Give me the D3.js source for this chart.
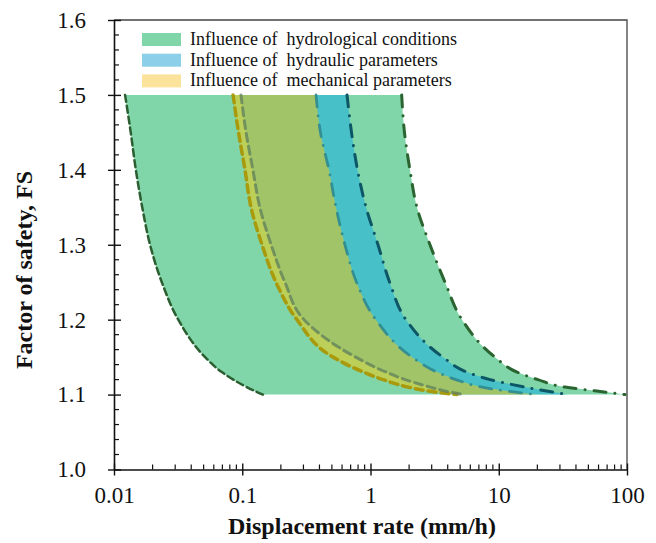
<!DOCTYPE html>
<html>
<head>
<meta charset="utf-8">
<script src="https://cdn.jsdelivr.net/npm/d3@7"></script>
<style>
  body { margin: 0; background: #fff; }
  text { font-family: "Liberation Serif", "Times New Roman", serif; fill: #111; }
</style>
</head>
<body>
<div id="chart"></div>
<script>
// factor of safety levels where each boundary curve was read
const fsLevels = [1.5, 1.45, 1.4, 1.35, 1.3, 1.25, 1.2, 1.15, 1.13, 1.12, 1.11, 1.105, 1.1];

// displacement rate (mm/h) of each boundary at those levels
const hydroLow = [0.0122, 0.0135, 0.0148, 0.0166, 0.0191, 0.0236, 0.0317, 0.0513, 0.0692, 0.0851, 0.108, 0.124, 0.145];
const hydroHigh = [1.75, 1.84, 2.03, 2.30, 2.91, 3.81, 5.17, 9.35, 13.9, 20.2, 32.9, 56.3, 96.5];
const hydraulicLow = [0.0977, 0.107, 0.121, 0.137, 0.168, 0.215, 0.303, 0.766, 1.32, 1.86, 2.91, 3.75, 5.26];
const hydraulicHigh = [0.656, 0.711, 0.792, 0.923, 1.144, 1.41, 1.89, 3.67, 5.65, 8.55, 16.0, 23.0, 34.7];
const mechLow = [0.0848, 0.0935, 0.105, 0.117, 0.1426, 0.183, 0.267, 0.51, 0.88, 1.25, 1.96, 2.72, 4.72];
const mechHigh = [0.376, 0.407, 0.474, 0.538, 0.632, 0.778, 1.10, 2.11, 3.30, 4.64, 7.40, 11.2, 20.2];

const legendLabels = [
  'Influence of  hydrological conditions',
  'Influence of  hydraulic parameters',
  'Influence of  mechanical parameters',
];
const xTicks = [0.01, 0.1, 1, 10, 100];
const xTickLabels = ['0.01', '0.1', '1', '10', '100'];
const yTicks = [1.0, 1.1, 1.2, 1.3, 1.4, 1.5, 1.6];

const W = 656, H = 543;
const margin = { top: 20, right: 29, bottom: 73.5, left: 114 };
const serif = '"Liberation Serif", "Times New Roman", serif';

const svg = d3.select('#chart').append('svg').attr('width', W).attr('height', H);

const x = d3.scaleLog().domain([0.01, 100]).range([margin.left, W - margin.right]);
const y = d3.scaleLinear().domain([1.0, 1.6]).range([H - margin.bottom, margin.top]);

function band(lo, hi) {
  return fsLevels.map((fs, i) => ({ fs, lo: lo[i], hi: hi[i] }));
}

const area = d3.area()
  .y(d => y(d.fs))
  .x0(d => x(d.lo))
  .x1(d => x(d.hi))
  .curve(d3.curveMonotoneY);

const edge = key => d3.line()
  .y(d => y(d.fs))
  .x(d => x(d[key]))
  .curve(d3.curveMonotoneY);

const hydro = band(hydroLow, hydroHigh);
const hydraulic = band(hydraulicLow, hydraulicHigh);
const mech = band(mechLow, mechHigh);

const plot = svg.append('g');

// bands: green underneath, blue and yellow see-through on top
plot.append('path').datum(hydro).attr('d', area).attr('fill', '#80d6a8');
plot.append('path').datum(hydraulic).attr('d', area).attr('fill', 'rgb(30,175,224)').attr('fill-opacity', 0.57);
plot.append('path').datum(mech).attr('d', area).attr('fill', 'rgb(248,200,8)').attr('fill-opacity', 0.5);

// boundary lines
const dashDot = '12,9,0.1,9';
const edges = [
  { data: hydro, key: 'lo', color: '#2b5e30', width: 2.5, dash: '7,4', opacity: 1 },
  { data: mech, key: 'lo', color: '#a99400', width: 3.5, dash: '8,5', opacity: 0.9 },
  { data: hydraulic, key: 'lo', color: '#5d7f5c', width: 3, dash: '8,5', opacity: 0.75 },
  { data: mech, key: 'hi', color: '#2e8a90', width: 2.8, dash: dashDot, opacity: 0.9 },
  { data: hydraulic, key: 'hi', color: '#0d5666', width: 3, dash: dashDot, opacity: 1 },
  { data: hydro, key: 'hi', color: '#2a6430', width: 3, dash: dashDot, opacity: 1 },
];
edges.forEach(e => {
  plot.append('path').datum(e.data).attr('d', edge(e.key))
    .attr('fill', 'none')
    .attr('stroke', e.color)
    .attr('stroke-width', e.width)
    .attr('stroke-dasharray', e.dash)
    .attr('stroke-linecap', 'round')
    .attr('stroke-opacity', e.opacity);
});

// frame (top and right)
svg.append('path')
  .attr('d', `M${margin.left},${y(1.6)}H${x(100)}V${y(1.0)}`)
  .attr('fill', 'none').attr('stroke', '#444').attr('stroke-width', 1.3);

// y axis
const yAxis = svg.append('g')
  .attr('transform', `translate(${margin.left},0)`)
  .call(d3.axisLeft(y).tickValues(yTicks).tickFormat(d3.format('.1f')).tickSizeOuter(0).tickSizeInner(6).tickPadding(22))
  .attr('font-family', serif);
yAxis.select('.domain').attr('stroke', '#111').attr('stroke-width', 1.6);
yAxis.selectAll('.tick line').attr('x1', 7).attr('x2', -6).attr('stroke', '#111').attr('stroke-width', 1.4);
yAxis.selectAll('.tick text').attr('font-size', 23).attr('x', -28).attr('font-family', serif);

const yMinor = d3.range(1.0, 1.6001, 0.02).filter(v => Math.abs(v * 10 - Math.round(v * 10)) > 1e-6);
svg.append('g').selectAll('line').data(yMinor).enter().append('line')
  .attr('x1', margin.left).attr('x2', margin.left + 5)
  .attr('y1', d => y(d)).attr('y2', d => y(d))
  .attr('stroke', '#111').attr('stroke-width', 1.2);

// x axis
const xAxis = svg.append('g')
  .attr('transform', `translate(0,${y(1.0)})`)
  .call(d3.axisBottom(x).tickValues(xTicks).tickFormat((d, i) => xTickLabels[i]).tickSizeOuter(0).tickSizeInner(6).tickPadding(11))
  .attr('font-family', serif);
xAxis.select('.domain').attr('stroke', '#111').attr('stroke-width', 1.6);
xAxis.selectAll('.tick line').attr('y1', -6).attr('y2', 6).attr('stroke', '#111').attr('stroke-width', 1.4);
xAxis.selectAll('.tick text').attr('font-size', 23).attr('font-family', serif);

const xMinor = [];
for (let p = -2; p < 2; p++) {
  for (let m = 2; m <= 9; m++) xMinor.push(m * Math.pow(10, p));
}
svg.append('g').selectAll('line').data(xMinor).enter().append('line')
  .attr('x1', d => x(d)).attr('x2', d => x(d))
  .attr('y1', y(1.0)).attr('y2', y(1.0) - 5)
  .attr('stroke', '#111').attr('stroke-width', 1.2);

// axis titles
svg.append('text')
  .attr('x', 362).attr('y', 534)
  .attr('text-anchor', 'middle')
  .attr('font-size', 24).attr('font-weight', 'bold')
  .text('Displacement rate (mm/h)');

svg.append('text')
  .attr('transform', 'translate(32,270) rotate(-90)')
  .attr('text-anchor', 'middle')
  .attr('font-size', 24).attr('font-weight', 'bold')
  .text('Factor of safety, FS');

// legend
const legendColors = ['#80d6a8', '#8ccfe8', '#fbe39c'];
const legend = svg.append('g').selectAll('g').data(legendLabels).enter().append('g')
  .attr('transform', (d, i) => `translate(142,${33 + i * 20.7})`);
legend.append('rect').attr('width', 39).attr('height', 13).attr('fill', (d, i) => legendColors[i]);
legend.append('text')
  .attr('x', 48).attr('y', 12)
  .attr('font-size', 18)
  .style('white-space', 'pre')
  .text(d => d);
</script>
</body>
</html>
